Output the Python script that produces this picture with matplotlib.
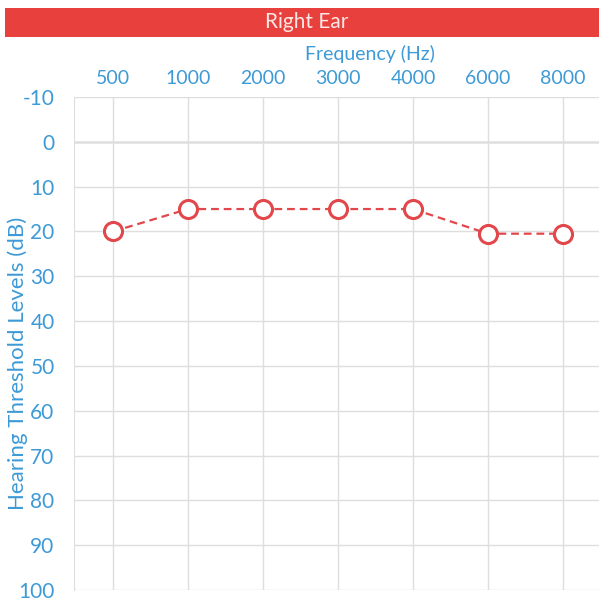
import matplotlib
matplotlib.use("Agg")
import matplotlib.pyplot as plt
from matplotlib.patches import Rectangle

frequencies = ["500", "1000", "2000", "3000", "4000", "6000", "8000"]
thresholds = [20, 15, 15, 15, 15, 20.5, 20.5]
y_ticks = [-10, 0, 10, 20, 30, 40, 50, 60, 70, 80, 90, 100]

plt.rcParams['font.family'] = ['Lato', 'DejaVu Sans']
plt.rcParams['axes.unicode_minus'] = False
blue = "#3d9ad6"
red = "#e2474b"

fig = plt.figure(figsize=(5.99, 6.02), dpi=100)
fig.patch.set_facecolor("white")

# header bar
fig.patches.append(Rectangle((5/599, 1-37/602), 1-5/599, 29/602, transform=fig.transFigure,
                             facecolor="#e8403d", edgecolor="none"))
fig.text(307/599, 1-22/602, "Right Ear", color="#fde8e6", fontsize=15, ha="center", va="center")

ax = fig.add_axes([74/599, 1-590/602, 1-74/599, (590-97)/602])
x = list(range(len(frequencies)))
ax.plot(x, thresholds, linestyle=(0, (3.5, 2.2)), color=red, linewidth=1.6,
        marker="o", markersize=13, markerfacecolor="white", markeredgecolor=red,
        markeredgewidth=2.2, zorder=3)

ax.set_xlim(-0.52, 6.48)
ax.set_ylim(100, -10)
ax.set_xticks(x)
ax.set_xticklabels(frequencies)
ax.set_yticks(y_ticks)
ax.xaxis.tick_top()
ax.xaxis.set_label_position("top")
ax.set_xlabel("Frequency (Hz)", color=blue, fontsize=14)
ax.xaxis.set_label_coords(0.563, 1.075)
ax.set_ylabel("Hearing Threshold Levels (dB)", color=blue, fontsize=16)
ax.yaxis.set_label_coords(-0.087, 0.46)
ax.tick_params(axis="y", colors=blue, labelsize=15, length=0, pad=14)
ax.tick_params(axis="x", colors=blue, labelsize=14, length=0, pad=7)

ax.grid(True, color="#dedede", linewidth=1.0)
ax.axhline(0, color="#8a8a8a", linewidth=1.0, zorder=1)
for s in ["top", "right", "bottom"]:
    ax.spines[s].set_visible(False)
ax.spines["left"].set_color("#dedede")

fig.savefig("out.png", dpi=100)
